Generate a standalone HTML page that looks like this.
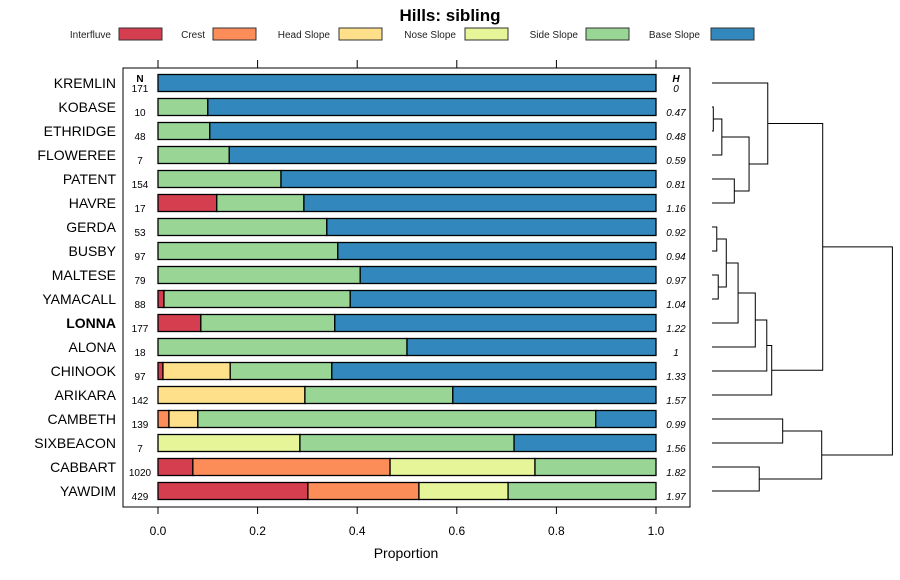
<!DOCTYPE html>
<html><head><meta charset="utf-8">
<style>
body{margin:0;background:#fff;}
svg{display:block;font-family:"Liberation Sans",sans-serif;}
</style></head>
<body>
<svg id="chart" width="900" height="580" viewBox="0 0 900 580" xmlns="http://www.w3.org/2000/svg">
<text x="450" y="21" text-anchor="middle" font-size="17" font-weight="bold">Hills: sibling</text>
<g id="legend"></g>
<rect x="123" y="68" width="567" height="439" fill="none" stroke="#000" stroke-width="1"/>
<g id="axis"></g>
<g id="bars"></g>
<g id="dendro" stroke="#000" stroke-width="1" fill="none"></g>
<text x="406" y="558" text-anchor="middle" font-size="14">Proportion</text>
</svg>
<script>
const categories = ["KREMLIN","KOBASE","ETHRIDGE","FLOWEREE","PATENT","HAVRE","GERDA","BUSBY","MALTESE","YAMACALL","LONNA","ALONA","CHINOOK","ARIKARA","CAMBETH","SIXBEACON","CABBART","YAWDIM"];
const seriesNames = ["Interfluve","Crest","Head Slope","Nose Slope","Side Slope","Base Slope"];
const colors = ["#D53E4F","#FC8D59","#FEE08B","#E6F598","#99D594","#3288BD"];
const interfluve = [0,0,0,0,0,0.118,0,0,0,0.012,0.086,0,0.01,0,0,0,0.07,0.301];
const crest      = [0,0,0,0,0,0,0,0,0,0,0,0,0,0,0.022,0,0.396,0.223];
const headSlope  = [0,0,0,0,0,0,0,0,0,0,0,0,0.135,0.295,0.058,0,0,0];
const noseSlope  = [0,0,0,0,0,0,0,0,0,0,0,0,0,0,0,0.285,0.291,0.179];
const sideSlope  = [0,0.1,0.104,0.143,0.247,0.175,0.339,0.361,0.406,0.374,0.269,0.5,0.204,0.297,0.799,0.43,0.243,0.297];
const baseSlope  = [1,0.9,0.896,0.857,0.753,0.707,0.661,0.639,0.594,0.614,0.645,0.5,0.651,0.408,0.121,0.285,0,0];
const nValues = [171,10,48,7,154,17,53,97,79,88,177,18,97,142,139,7,1020,429];
const hValues = ["0","0.47","0.48","0.59","0.81","1.16","0.92","0.94","0.97","1.04","1.22","1","1.33","1.57","0.99","1.56","1.82","1.97"];
const xTicks = [0,0.2,0.4,0.6,0.8,1.0];
const xTickLabels = ["0.0","0.2","0.4","0.6","0.8","1.0"];
// dendrogram merges: [leftNode, rightNode, height]; negative = leaf index (-(i+1)), positive = merge number (1-based)
const merges = [[-2,-3,0.008],[1,-4,0.06],[-5,-6,0.136],[2,3,0.226],[-1,4,0.34],[-7,-8,0.029],[-9,-10,0.038],[6,7,0.087],[8,-11,0.159],[9,-12,0.264],[10,-13,0.334],[11,-14,0.364],[5,12,0.675],[-15,-16,0.431],[-17,-18,0.288],[14,15,0.669],[13,16,1.1]];

const NS="http://www.w3.org/2000/svg";
function mk(tag, attrs, parent){const e=document.createElementNS(NS,tag);for(const k in attrs)e.setAttribute(k,attrs[k]);parent.appendChild(e);return e;}
const x = v => 158 + v*498;
const y = i => 83 + i*24;
const series=[interfluve,crest,headSlope,noseSlope,sideSlope,baseSlope];

// legend
const lg=document.getElementById('legend');
const legX=[111,205,330,456,578,700];
const swX=[119,213,339,465,586,711];
seriesNames.forEach((n,i)=>{
  const t=mk('text',{x:legX[i],y:38,'text-anchor':'end','font-size':10,fill:'#222'},lg);
  t.textContent=n;
  
  
  const r=mk('rect',{x:swX[i],y:28,width:43,height:12,fill:colors[i],stroke:'#333','stroke-width':1},lg);
  
  
});

// axis
const ax=document.getElementById('axis');
xTicks.forEach((v,i)=>{
  mk('line',{x1:x(v),x2:x(v),y1:507,y2:514,stroke:'#000'},ax);
  mk('line',{x1:x(v),x2:x(v),y1:60,y2:68,stroke:'#000'},ax);
  const t=mk('text',{x:x(v),y:535,'text-anchor':'middle','font-size':12},ax);
  t.textContent=xTickLabels[i];
  
  
});

// bars
const bg=document.getElementById('bars');
let hN=mk('text',{x:140,y:82,'text-anchor':'middle','font-size':10,'font-weight':'bold'},bg);hN.textContent='N';


let hH=mk('text',{x:676,y:82,'text-anchor':'middle','font-size':10,'font-weight':'bold','font-style':'italic'},bg);hH.textContent='H';


categories.forEach((c,i)=>{
  const cy=y(i);
  const lab=mk('text',{x:116,y:cy+5,'text-anchor':'end','font-size':14,'font-weight':c==='LONNA'?'bold':'normal'},bg);
  lab.textContent=c;
  
  
  let cum=0;
  series.forEach((s,k)=>{
    const v=s[i]; if(v<=0) return;
    const r=mk('rect',{x:x(cum),y:cy-8.5,width:x(cum+v)-x(cum),height:17,fill:colors[k],stroke:'#000','stroke-width':1.3},bg);
    
    
    cum+=v;
  });
  const n=mk('text',{x:140,y:cy+9,'text-anchor':'middle','font-size':10},bg);
  n.textContent=nValues[i];
  
  
  const h=mk('text',{x:676,y:cy+9,'text-anchor':'middle','font-size':10,'font-style':'italic'},bg);
  h.textContent=hValues[i];
  
  
});

// dendrogram
const dg=document.getElementById('dendro');
const dx = h => 712 + h*164;
const nodes=[];
function pos(id){ if(id<0) return {y:y(-id-1),h:0}; return nodes[id-1]; }
merges.forEach(m=>{
  const a=pos(m[0]), b=pos(m[1]), X=dx(m[2]);
  const p=mk('path',{d:`M${dx(a.h)} ${a.y}H${X}V${b.y}H${dx(b.h)}`},dg);
  
  
  nodes.push({y:(a.y+b.y)/2,h:m[2]});
});
</script>
</body></html>
